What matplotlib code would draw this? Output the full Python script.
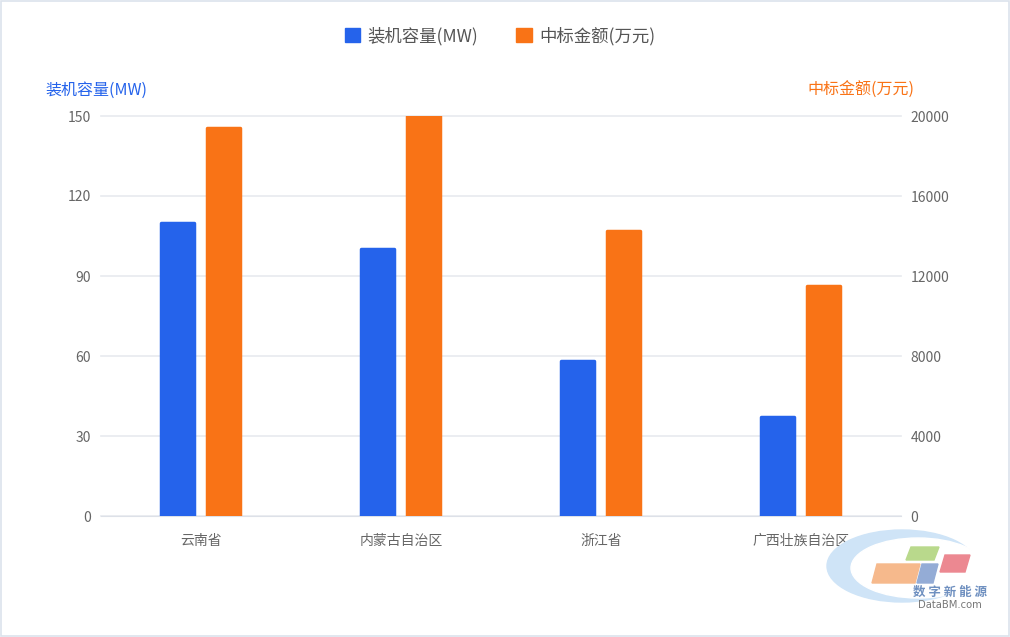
import matplotlib.pyplot as plt
import matplotlib.patches as mpatches
from matplotlib.patches import Ellipse, Polygon
import numpy as np

plt.rcParams['font.family'] = ['Noto Sans CJK SC', 'DejaVu Sans']

# data
provinces = ['云南省', '内蒙古自治区', '浙江省', '广西壮族自治区']
capacity_mw = [110, 100, 58, 37]
bid_amount = [19400, 20000, 14250, 11500]

left_ticks = [0, 30, 60, 90, 120, 150]
right_ticks = [0, 4000, 8000, 12000, 16000, 20000]

blue = '#2563EB'
orange = '#F97316'
tick_gray = '#666666'
grid_gray = '#E8EAEF'

fig = plt.figure(figsize=(10.1, 6.37), dpi=100)
ax = fig.add_axes([101 / 1010, 121 / 637, 800 / 1010, 400 / 637])
ax2 = ax.twinx()

x = np.arange(len(provinces))
w = 0.165
ax.bar(x - 0.118, capacity_mw, width=w, color=blue, edgecolor=blue,
       linewidth=2.5, joinstyle='round', zorder=3)
ax2.bar(x + 0.112, bid_amount, width=w, color=orange, edgecolor=orange,
        linewidth=2.5, joinstyle='round', zorder=3)

ax.set_xlim(-0.5, len(provinces) - 0.5)
ax.set_ylim(0, 150)
ax2.set_ylim(0, 20000)
ax.set_yticks(left_ticks)
ax2.set_yticks(right_ticks)
ax.set_xticks(x)
ax.set_xticklabels(provinces)

ax.grid(axis='y', color=grid_gray, linewidth=1.2, zorder=0)
ax.set_axisbelow(True)
for gl in ax.get_ygridlines():
    gl.set_clip_on(False)
for a in (ax, ax2):
    for s in a.spines.values():
        s.set_visible(False)
    a.tick_params(length=0, colors=tick_gray, labelsize=10)
ax.tick_params(axis='y', pad=7.5)
ax2.tick_params(axis='y', pad=7)
ax.tick_params(axis='x', pad=13)
ax.spines['bottom'].set_visible(True)
ax.spines['bottom'].set_color('#DDE1E8')

# axis titles above the axes
fig.text(45 / 1010, 1 - 90 / 637, '装机容量(MW)', color=blue, fontsize=11.5,
         ha='left', va='center')
fig.text(914 / 1010, 1 - 90 / 637, '中标金额(万元)', color=orange, fontsize=11.5,
         ha='right', va='center')

# legend
handles = [mpatches.Patch(color=blue, label='装机容量(MW)'),
           mpatches.Patch(color=orange, label='中标金额(万元)')]
leg = fig.legend(handles=handles, loc='center', bbox_to_anchor=(0.495, 1 - 36 / 637),
                 ncol=2, frameon=False, fontsize=12.5, handlelength=0.9,
                 handleheight=0.9, handletextpad=0.4, columnspacing=2.2)
for t in leg.get_texts():
    t.set_color('#555555')

# watermark in the lower right corner
wm = fig.add_axes([820 / 1010, 0, 190 / 1010, 115 / 637])
wm.set_xlim(0, 190)
wm.set_ylim(0, 115)
wm.axis('off')
wm.add_patch(Ellipse((82, 71), 150, 72, color='#CFE4F7', zorder=1))
wm.add_patch(Ellipse((98, 69), 134, 60, color='white', zorder=2))
wm.add_patch(Polygon([[52, 54], [95, 54], [100, 73], [57, 73]], color='#F6B98C', zorder=3))
wm.add_patch(Polygon([[97, 54], [113, 54], [118, 73], [102, 73]], color='#94ACD6', zorder=3))
wm.add_patch(Polygon([[86, 77], [114, 77], [119, 90], [91, 90]], color='#B9D98C', zorder=3))
wm.add_patch(Polygon([[120, 65], [145, 65], [150, 82], [125, 82]], color='#EC8891', zorder=3))
wm.text(130, 45, '数 字 新 能 源', color='#6F90C0', fontsize=9, ha='center',
        va='center', fontweight='bold', zorder=4)
wm.text(130, 32, 'DataBM.com', color='#777777', fontsize=7.2, ha='center',
        va='center', zorder=4, family='DejaVu Sans')

# light frame around the whole figure
fig.add_artist(mpatches.Rectangle((0.001, 0.001), 0.998, 0.998, transform=fig.transFigure,
                                  fill=False, edgecolor='#DCE3EC', linewidth=1.2))

plt.savefig('out.png', dpi=100)
